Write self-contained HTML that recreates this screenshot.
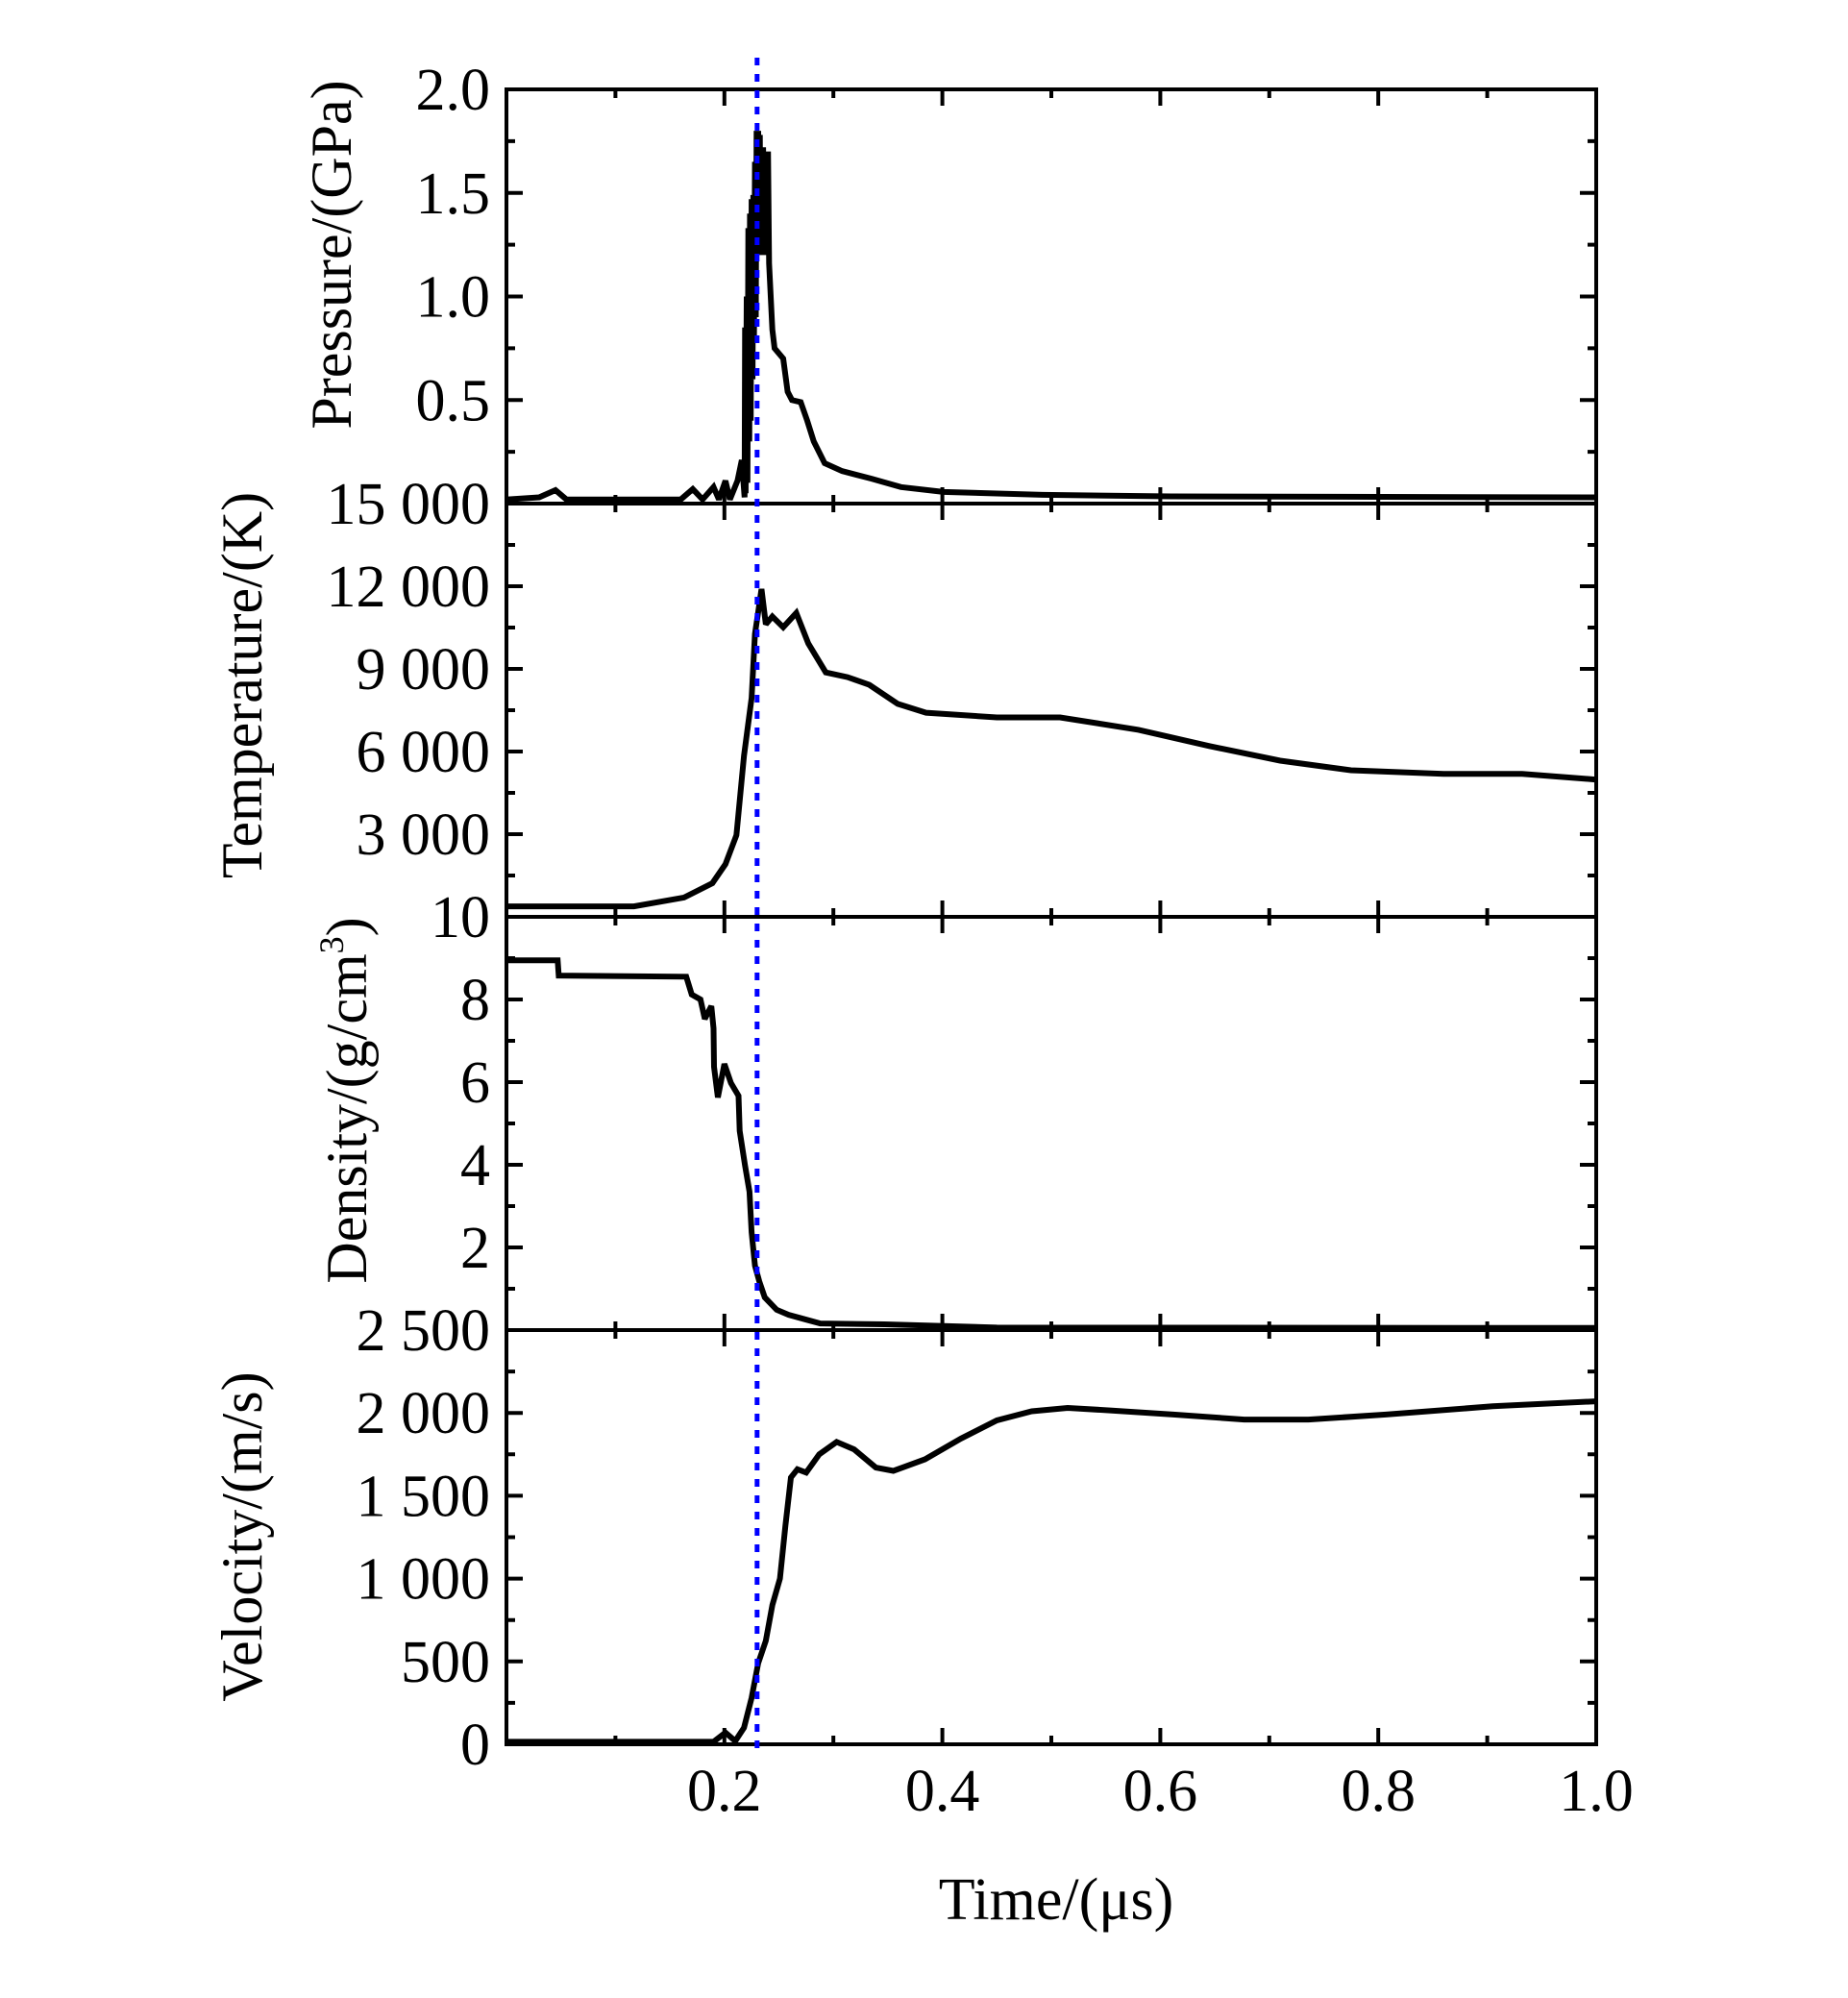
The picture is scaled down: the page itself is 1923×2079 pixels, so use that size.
<!DOCTYPE html>
<html><head><meta charset="utf-8"><style>
html,body{margin:0;padding:0;background:#fff;}
svg{display:block;}
text{font-family:"Liberation Serif",serif;fill:#000;}
</style></head><body>
<svg id="chart" width="1923" height="2079" viewBox="0 0 1923 2079" xmlns="http://www.w3.org/2000/svg"></svg>
<script>
// ---- data ----
const pressureT = [0,0.03,0.045,0.055,0.16,0.171,0.18,0.19,0.195,0.201,0.205,0.212,0.216,0.2185,0.219,0.2195,0.2205,0.2212,0.222,0.2228,0.2235,0.2242,0.225,0.2258,0.2265,0.2272,0.228,0.2288,0.2295,0.2302,0.231,0.2318,0.2325,0.2332,0.234,0.2348,0.2355,0.2362,0.237,0.2378,0.2385,0.2392,0.240,0.241,0.244,0.246,0.254,0.258,0.262,0.270,0.276,0.282,0.292,0.308,0.335,0.362,0.401,0.492,0.61,1.0];
const pressureV = [0.02,0.03,0.065,0.02,0.02,0.07,0.02,0.08,0.02,0.11,0.02,0.11,0.21,0.03,0.85,0.05,1.0,0.1,1.33,0.3,1.40,0.4,1.47,0.6,1.49,0.8,1.65,0.9,1.80,1.2,1.80,1.2,1.78,1.2,1.72,1.2,1.72,1.3,1.70,1.3,1.70,1.2,1.70,1.16,0.84,0.75,0.70,0.54,0.50,0.49,0.40,0.30,0.195,0.157,0.12,0.08,0.056,0.042,0.035,0.03];
const tempT = [0,0.117,0.163,0.189,0.201,0.211,0.218,0.225,0.228,0.231,0.234,0.238,0.244,0.254,0.266,0.277,0.293,0.313,0.333,0.359,0.385,0.450,0.508,0.580,0.645,0.710,0.775,0.860,0.932,1.0];
const tempV = [380,380,700,1220,1910,2960,5850,7940,10270,11070,11900,10620,10900,10510,11030,9920,8870,8700,8420,7730,7410,7240,7240,6790,6200,5670,5320,5190,5190,4980];
const densT = [0,0.047,0.048,0.165,0.170,0.178,0.182,0.188,0.190,0.1905,0.194,0.200,0.206,0.213,0.214,0.219,0.223,0.225,0.228,0.232,0.237,0.248,0.259,0.274,0.288,0.347,0.45,1.0];
const densV = [8.95,8.95,8.58,8.55,8.12,8.0,7.53,7.84,7.3,6.37,5.63,6.44,5.98,5.67,4.82,3.98,3.35,2.37,1.56,1.18,0.79,0.49,0.37,0.26,0.16,0.14,0.06,0.05];
const velT = [0,0.190,0.201,0.210,0.218,0.225,0.231,0.238,0.244,0.251,0.256,0.261,0.267,0.275,0.287,0.303,0.319,0.339,0.355,0.384,0.417,0.450,0.482,0.515,0.554,0.612,0.677,0.736,0.807,0.905,1.0];
const velV = [15,15,70,20,100,280,490,625,840,1000,1320,1610,1660,1640,1750,1825,1780,1670,1650,1720,1845,1955,2010,2030,2015,1990,1960,1960,1990,2040,2070];
const xTickLabels = ["0.2","0.4","0.6","0.8","1.0"];
const xTickValues = [0.2,0.4,0.6,0.8,1.0];
const markerTime = [0.23];

// ---- layout ----
const NS="http://www.w3.org/2000/svg";
const svg=document.getElementById('chart');
const L=527,R=1661;
const panels=[
 {name:'pressure',top:93,bot:524,min:0,max:2,major:0.5,minor:0.25,labels:["2.0","1.5","1.0","0.5"],labelVals:[2,1.5,1,0.5],t:pressureT,v:pressureV,title:'Pressure/(GPa)',tx:365,ty:265},
 {name:'temperature',top:524,bot:954,min:0,max:15000,major:3000,minor:1500,labels:["15 000","12 000","9 000","6 000","3 000"],labelVals:[15000,12000,9000,6000,3000],t:tempT,v:tempV,title:'Temperature/(K)',tx:272,ty:713},
 {name:'density',top:954,bot:1384,min:0,max:10,major:2,minor:1,labels:["10","8","6","4","2"],labelVals:[10,8,6,4,2],t:densT,v:densV,title:'Density/(g/cm',sup:'3',tx:381,ty:1145},
 {name:'velocity',top:1384,bot:1815,min:0,max:2500,major:500,minor:250,labels:["2 500","2 000","1 500","1 000","500","0"],labelVals:[2500,2000,1500,1000,500,0],t:velT,v:velV,title:'Velocity/(m/s)',tx:272,ty:1599}
];
function xs(t){return L+(R-L)*t;}
function mk(tag,attrs){const e=document.createElementNS(NS,tag);for(const k in attrs)e.setAttribute(k,attrs[k]);svg.appendChild(e);return e;}

panels.forEach(p=>{
  const ys=v=>p.bot-(p.bot-p.top)*(v-p.min)/(p.max-p.min);
  let d='';
  p.t.forEach((t,i)=>{d+=(i?'L':'M')+xs(t).toFixed(1)+' '+ys(p.v[i]).toFixed(1);});
  const line=mk('path',{d:d,fill:'none',stroke:'#000','stroke-width':6,'stroke-linejoin':'miter','stroke-miterlimit':2});
  
  
  for(let k=1;k<10;k++){
    const x=xs(k/10);const len=(k%2===0)?17:9;
    const tb=mk('path',{d:`M${x} ${p.bot}V${p.bot-len}M${x} ${p.top}V${p.top+len}`,stroke:'#000','stroke-width':4});
    
    
  }
  const n=Math.round((p.max-p.min)/p.minor);
  for(let k=1;k<n;k++){
    const v=p.min+k*p.minor;const y=ys(v);
    const len=(k%2===0)?17:9;
    const tk=mk('path',{d:`M${L} ${y}H${L+len}M${R} ${y}H${R-len}`,stroke:'#000','stroke-width':4});
    
    
  }
  const fr=mk('rect',{x:L,y:p.top,width:R-L,height:p.bot-p.top,fill:'none',stroke:'#000','stroke-width':4});
  
  
  p.labels.forEach((lab,i)=>{
    const tx=mk('text',{x:510,y:ys(p.labelVals[i])+21,'text-anchor':'end','font-size':62});
    tx.textContent=lab;
    
    
  });
  const tt=mk('text',{x:p.tx,y:p.ty,'text-anchor':'middle','font-size':60,transform:`rotate(-90 ${p.tx} ${p.ty})`});
  tt.textContent=p.title;
  if(p.sup){
    const s=document.createElementNS(NS,'tspan');s.setAttribute('font-size',36);s.setAttribute('dy',-24);s.textContent=p.sup;tt.appendChild(s);
    const c=document.createElementNS(NS,'tspan');c.setAttribute('dy',24);c.textContent=')';tt.appendChild(c);
  }
  
  
});

xTickLabels.forEach((lab,i)=>{
  const tx=mk('text',{x:xs(xTickValues[i]),y:1884,'text-anchor':'middle','font-size':62});
  tx.textContent=lab;
  
  
});
const xt=mk('text',{x:1099,y:1997,'text-anchor':'middle','font-size':62});
xt.textContent='Time/(\u03bcs)';



markerTime.forEach(t=>{
  const ml=mk('line',{x1:xs(t),x2:xs(t),y1:60,y2:1822,stroke:'#0000ff','stroke-width':5,'stroke-dasharray':'8 9'});
  
  
});
</script>
</body></html>
